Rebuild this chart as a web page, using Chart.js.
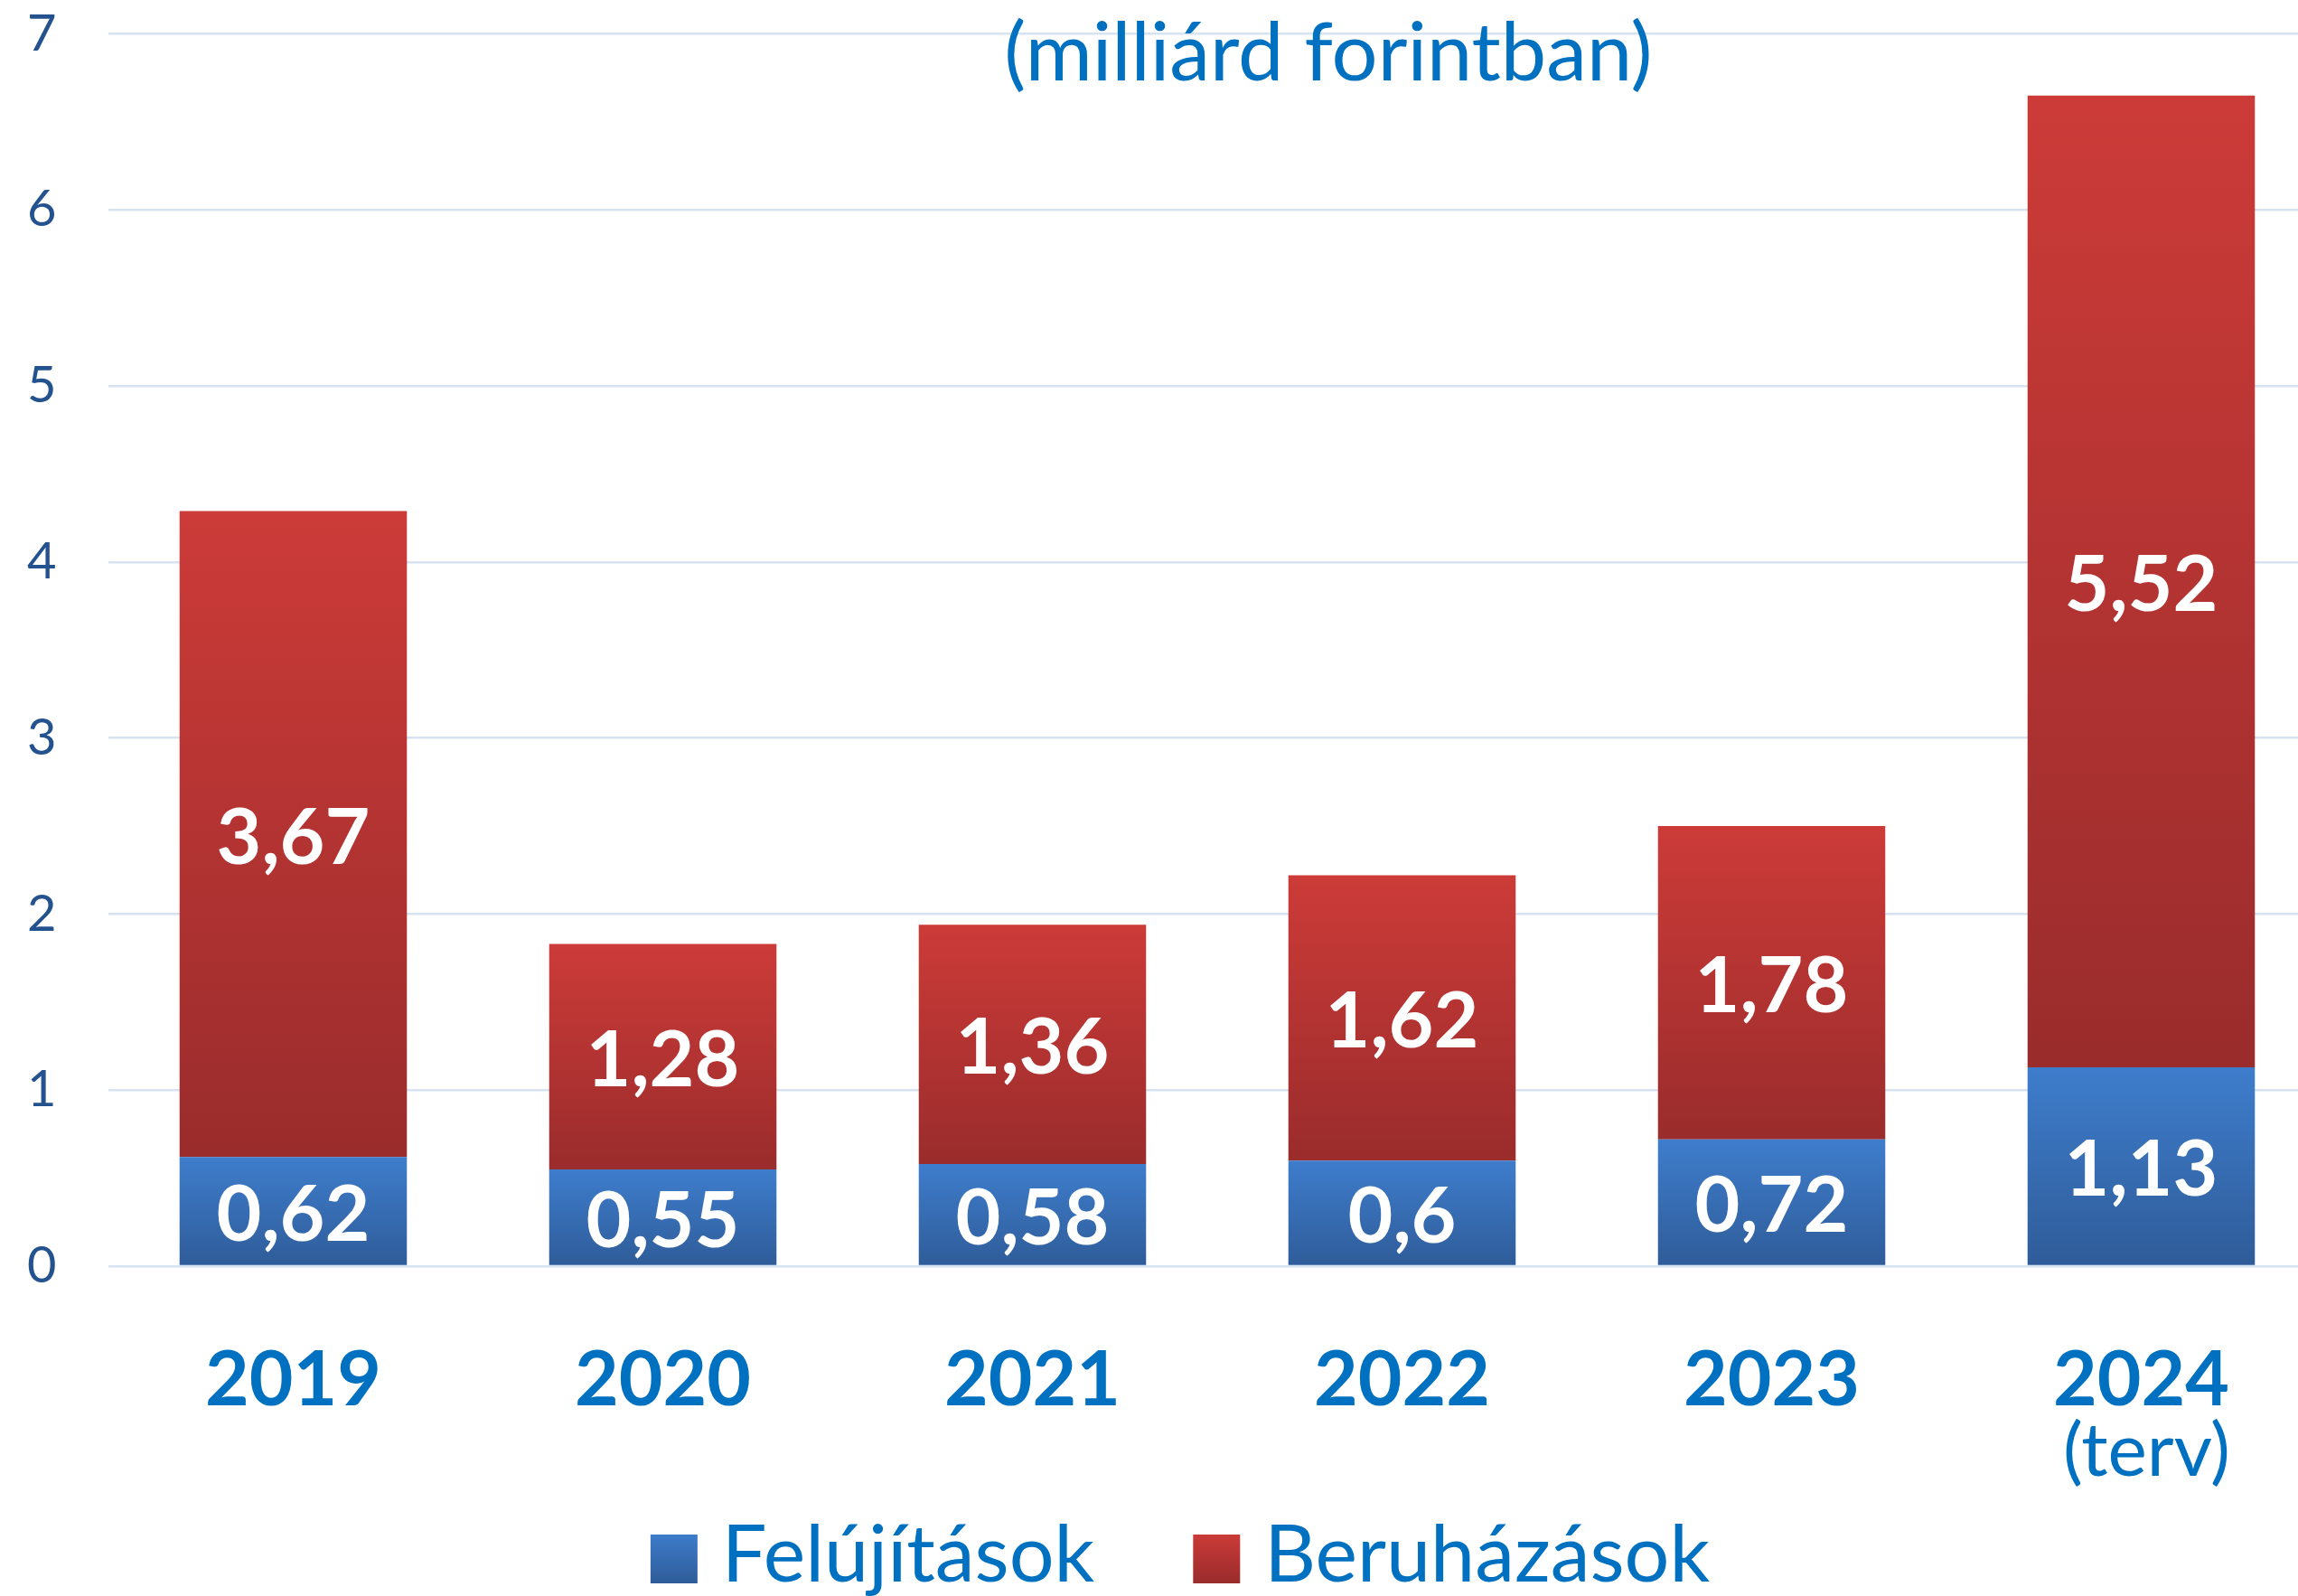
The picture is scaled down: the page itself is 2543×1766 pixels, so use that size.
<!DOCTYPE html>
<html>
<head>
<meta charset="utf-8">
<script src="https://cdn.jsdelivr.net/npm/chart.js@4/dist/chart.umd.min.js"></script>
<style>
    html, body { margin: 0; padding: 0; background: #ffffff; overflow: hidden; }
    #wrap { position: absolute; left: 0; top: 0; width: 2574px; height: 1766px; }
</style>
</head>
<body>
<div id="wrap"><canvas id="myChart"></canvas></div>
<script>
const categories = ['2019', '2020', '2021', '2022', '2023', '2024'];
const tickNotes = ['', '', '', '', '', '(terv)'];
const seriesNames = ['Felújítások', 'Beruházások'];
const felujitasok = [0.62, 0.55, 0.58, 0.6, 0.72, 1.13];
const beruhazasok = [3.67, 1.28, 1.36, 1.62, 1.78, 5.52];
const yMin = 0;
const yMax = 7;
const yStep = 1;
const titleText = '(milliárd forintban)';

const blueTop = '#3E7DCC', blueBottom = '#2F5C99';
const redTop = '#CC3B38', redBottom = '#9A2C2C';
const seriesColors = [[blueTop, blueBottom], [redTop, redBottom]];

function segmentGradient(context, topColor, bottomColor) {
    let chart = context.chart;
    if (!chart.chartArea || !chart.scales.y) return topColor;
    let i = context.dataIndex;
    let start = 0;
    let end = felujitasok[i];
    if (context.datasetIndex == 1) {
        start = felujitasok[i];
        end = felujitasok[i] + beruhazasok[i];
    }
    let y = chart.scales.y;
    let g = chart.ctx.createLinearGradient(0, y.getPixelForValue(end), 0, y.getPixelForValue(start));
    g.addColorStop(0, topColor);
    g.addColorStop(1, bottomColor);
    return g;
}

// white value labels in the middle of each segment
const valueLabels = {
    id: 'valueLabels',
    afterDatasetsDraw(chart) {
        let ctx = chart.ctx;
        ctx.save();
        ctx.font = 'bold 86px Lato';
        ctx.fillStyle = '#ffffff';
        ctx.textAlign = 'center';
        ctx.textBaseline = 'middle';
        chart.data.datasets.forEach((ds, d) => {
            chart.getDatasetMeta(d).data.forEach((bar, i) => {
                let txt = String(ds.data[i]).replace('.', ',');
                ctx.fillText(txt, bar.x, (bar.y + bar.base) / 2 + 5);
            });
        });
        ctx.restore();
    }
};

// title, "(terv)" note and the legend with gradient boxes
const extraText = {
    id: 'extraText',
    afterDraw(chart) {
        let ctx = chart.ctx;
        let x = chart.scales.x;
        ctx.save();
        ctx.fillStyle = '#0070C0';
        ctx.textAlign = 'center';
        ctx.textBaseline = 'middle';
        ctx.font = '90px Lato';
        ctx.fillText(titleText, 1470, 60);
        ctx.font = '82px Lato';
        tickNotes.forEach((note, i) => {
            if (note) ctx.fillText(note, x.getPixelForTick(i) + 6, 1607);
        });

        // legend
        ctx.font = '88px Lato';
        let box = 52, gap = 27, spacing = 109;
        let widths = seriesNames.map(n => ctx.measureText(n).width);
        let total = widths.reduce((a, b) => a + b, 0) + seriesNames.length * (box + gap) + spacing * (seriesNames.length - 1);
        let lx = 1306 - total / 2;
        let ly = 1722;
        ctx.textAlign = 'left';
        seriesNames.forEach((name, k) => {
            let g = ctx.createLinearGradient(0, ly - 26, 0, ly + 30);
            g.addColorStop(0, seriesColors[k][0]);
            g.addColorStop(1, seriesColors[k][1]);
            ctx.fillStyle = g;
            ctx.fillRect(lx, ly - 24, box, 54);
            lx += box + gap;
            ctx.fillStyle = '#0070C0';
            ctx.fillText(name, lx, ly);
            lx += widths[k] + spacing;
        });
        ctx.restore();
    }
};

Chart.defaults.font.family = 'Lato';

const ctx = document.getElementById('myChart');
new Chart(ctx, {
    type: 'bar',
    data: {
        labels: categories,
        datasets: [{
            label: seriesNames[0],
            data: felujitasok,
            backgroundColor: (c) => segmentGradient(c, blueTop, blueBottom),
            borderWidth: 0
        }, {
            label: seriesNames[1],
            data: beruhazasok,
            backgroundColor: (c) => segmentGradient(c, redTop, redBottom),
            borderWidth: 0
        }]
    },
    options: {
        responsive: true,
        maintainAspectRatio: false,
        animation: false,
        layout: {
            padding: { top: 0, right: 0, bottom: 0, left: 30 }
        },
        datasets: {
            bar: {
                categoryPercentage: 1,
                barPercentage: 0.615
            }
        },
        plugins: {
            tooltip: { enabled: false },
            title: { display: false },
            legend: { display: false }
        },
        scales: {
            x: {
                stacked: true,
                grid: { display: false },
                border: { display: false },
                ticks: {
                    color: '#0070C0',
                    font: { size: 84, weight: 'bold' },
                    padding: 69
                },
                afterFit: function (scale) {
                    scale.height = 365;
                }
            },
            y: {
                stacked: true,
                min: yMin,
                max: yMax,
                border: { display: false },
                grid: {
                    color: '#D8E3F2',
                    lineWidth: 2.5,
                    drawTicks: false
                },
                ticks: {
                    stepSize: yStep,
                    color: '#24528F',
                    font: { size: 56 },
                    padding: 4,
                    crossAlign: 'far'
                },
                afterFit: function (scale) {
                    scale.width = 90;
                }
            }
        }
    },
    plugins: [valueLabels, extraText]
});
</script>
</body>
</html>
